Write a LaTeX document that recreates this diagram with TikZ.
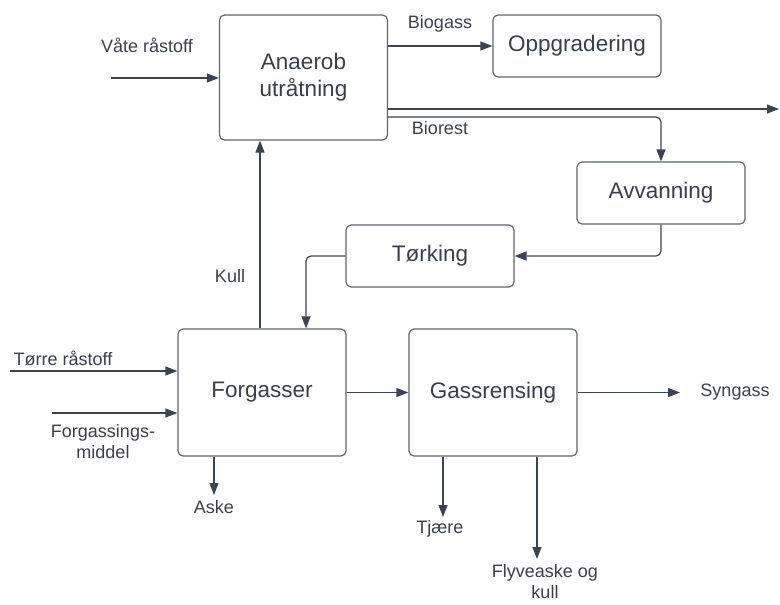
\documentclass[tikz,border=0pt]{standalone}
\usepackage{fontspec}
\setmainfont{Liberation Sans}
\usepackage{tikz}
\usetikzlibrary{arrows.meta}
\definecolor{linegray}{HTML}{3D434C}
\definecolor{boxgray}{HTML}{5F646C}
\definecolor{textgray}{HTML}{3A3F47}

\begin{document}
\begin{tikzpicture}[x=1pt, y=-1pt,
  unit/.style={draw=boxgray, line width=1.2pt, rounded corners=5pt, minimum width=168pt, inner sep=0pt, align=center, text=textgray, font=\fontsize{22.5}{27}\selectfont},
  flow/.style={-{Triangle[length=12pt, width=9pt]}, draw=linegray, line width=1.2pt, rounded corners=5pt},
  stream/.style={inner sep=0pt, align=center, text=textgray, font=\fontsize{18}{21}\selectfont}]
\useasboundingbox (0,0) rectangle (780,605);

\node[unit, minimum height=125pt] (anaerob) at (303.5, 77.5) {Anaerob\\utråtning};
\node[unit, minimum height=62pt] (oppgradering) at (577, 46) {Oppgradering};
\node[unit, minimum height=62pt] (avvanning) at (661, 193) {Avvanning};
\node[unit, minimum height=62pt] (torking) at (430, 256) {Tørking};
\node[unit, minimum height=127pt] (forgasser) at (262, 392.5) {Forgasser};
\node[unit, minimum height=127pt] (gassrensing) at (493, 392.5) {Gassrensing};

\node[stream] (vate) at (147, 45) {Våte råstoff};
\node[stream] (biogass) at (440, 24) {Biogass};
\node[stream] (biorest) at (440, 128) {Biorest};
\node[stream] (kull) at (230, 276) {Kull};
\node[stream] (torre) at (63, 358) {Tørre råstoff};
\node[stream] (middel) at (103, 442) {Forgassings-\\middel};
\node[stream] (syngass) at (735, 392.5) {Syngass};
\node[stream] (aske) at (214, 507) {Aske};
\node[stream] (tjaere) at (440, 529) {Tjære};
\node[stream] (flyveaske) at (545, 582) {Flyveaske og\\kull};

\coordinate (vate in) at (111, 78);
\coordinate (rest out) at (779, 109);
\coordinate (torre in) at (10, 371);
\coordinate (middel in) at (52, 413);
\coordinate (syngass out) at (680, 392.5);
\coordinate (aske out) at (214, 495);
\coordinate (tjaere out) at (443, 517);
\coordinate (flyveaske out) at (537, 559);

\draw[flow] (vate in) -- (anaerob.west |- vate in);
\draw[flow] (anaerob.east |- oppgradering.west) -- (oppgradering.west);
\draw[flow] (anaerob.east |- rest out) -- (rest out);
\draw[flow] (anaerob.east |- 0,117) -| (avvanning.north);
\draw[flow] (avvanning.south) |- (torking.east);
\draw[flow] (torking.west) -| (forgasser.north -| 306,0);
\draw[flow] (forgasser.north -| 260,0) -- (anaerob.south -| 260,0);

\draw[flow] (torre in) -- (forgasser.west |- torre in);
\draw[flow] (middel in) -- (forgasser.west |- middel in);
\draw[flow] (forgasser) -- (gassrensing);
\draw[flow] (gassrensing) -- (syngass out);
\draw[flow] (forgasser.south -| aske out) -- (aske out);
\draw[flow] (gassrensing.south -| tjaere out) -- (tjaere out);
\draw[flow] (gassrensing.south -| flyveaske out) -- (flyveaske out);

\end{tikzpicture}
\end{document}
